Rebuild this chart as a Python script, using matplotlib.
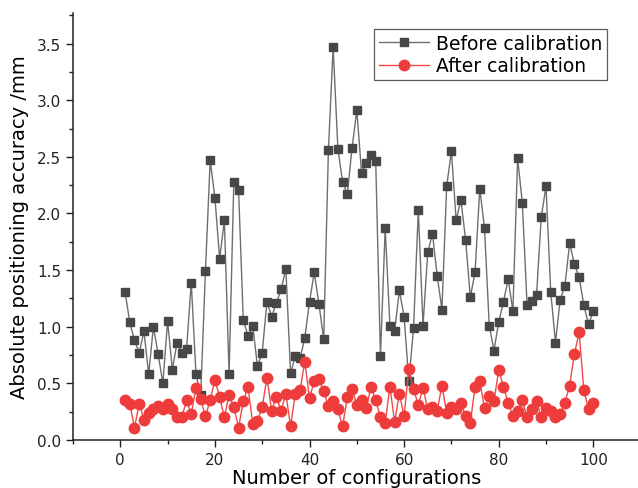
import matplotlib
matplotlib.use("Agg")
import matplotlib.pyplot as plt
from matplotlib.ticker import MultipleLocator
import numpy as np

configs = list(range(1, 101))
before = [1.31, 1.04, 0.88, 0.77, 0.96, 0.58, 1.00, 0.76, 0.50, 1.05,
          0.62, 0.86, 0.77, 0.80, 1.39, 0.58, 0.40, 1.49, 2.47, 2.14,
          1.60, 1.94, 0.58, 2.28, 2.21, 1.06, 0.92, 1.01, 0.65, 0.77,
          1.22, 1.09, 1.21, 1.33, 1.51, 0.59, 0.74, 0.72, 0.90, 1.22,
          1.48, 1.20, 0.89, 2.56, 3.47, 2.57, 2.28, 2.17, 2.58, 2.91,
          2.36, 2.45, 2.52, 2.46, 0.74, 1.87, 1.01, 0.96, 1.32, 1.09,
          0.52, 0.99, 2.03, 1.01, 1.66, 1.82, 1.45, 1.15, 2.24, 2.55,
          1.94, 2.12, 1.77, 1.26, 1.48, 2.22, 1.87, 1.01, 0.79, 1.04,
          1.22, 1.42, 1.14, 2.49, 2.09, 1.19, 1.23, 1.28, 1.97, 2.24,
          1.31, 0.86, 1.24, 1.36, 1.74, 1.55, 1.44, 1.19, 1.02, 1.14]
after = [0.35, 0.32, 0.11, 0.32, 0.18, 0.24, 0.27, 0.30, 0.27, 0.32,
         0.27, 0.20, 0.20, 0.35, 0.23, 0.46, 0.36, 0.21, 0.35, 0.53,
         0.38, 0.20, 0.40, 0.29, 0.11, 0.34, 0.47, 0.14, 0.17, 0.29,
         0.55, 0.26, 0.38, 0.26, 0.41, 0.12, 0.41, 0.44, 0.69, 0.37,
         0.52, 0.54, 0.43, 0.30, 0.34, 0.27, 0.12, 0.38, 0.45, 0.31,
         0.35, 0.28, 0.47, 0.35, 0.20, 0.15, 0.47, 0.16, 0.41, 0.21,
         0.63, 0.45, 0.31, 0.46, 0.27, 0.29, 0.26, 0.48, 0.24, 0.29,
         0.27, 0.33, 0.21, 0.15, 0.47, 0.52, 0.28, 0.39, 0.34, 0.62,
         0.47, 0.33, 0.21, 0.26, 0.35, 0.20, 0.27, 0.34, 0.20, 0.28,
         0.26, 0.20, 0.23, 0.33, 0.48, 0.76, 0.95, 0.44, 0.27, 0.33]

labels = ["Before calibration", "After calibration"]
xticks = [0, 20, 40, 60, 80, 100]

W, H = 638, 489
fig = plt.figure(figsize=(W / 100, H / 100), dpi=100)
ax = fig.add_axes([73 / W, 48 / H, 567.6 / W, 427 / H])

ax.plot(configs, before, color="#6e6e6e", lw=1.0, marker="s", ms=6.3,
        mfc="#474747", mec="#474747", label=labels[0], zorder=2)
ax.plot(configs, after, color="#f04848", lw=1.0, marker="o", ms=7.5,
        mfc="#ee3b3b", mec="#ee3b3b", label=labels[1], zorder=3)

ax.set_xlim(-10, 110)
ax.set_ylim(0, 3.77)
ax.set_xticks(xticks)
ax.xaxis.set_minor_locator(MultipleLocator(10))
ax.yaxis.set_major_locator(MultipleLocator(0.5))
ax.yaxis.set_minor_locator(MultipleLocator(0.25))
ax.yaxis.set_major_formatter(matplotlib.ticker.FormatStrFormatter("%.1f"))

for s in ["top", "right"]:
    ax.spines[s].set_visible(False)
for s in ["left", "bottom"]:
    ax.spines[s].set_linewidth(1.1)
    ax.spines[s].set_color("#222222")

ax.tick_params(which="major", direction="out", length=5, width=1.0,
               labelsize=11, colors="#222222")
ax.tick_params(which="minor", direction="out", length=3, width=1.0,
               colors="#222222")

ax.set_xlabel("Number of configurations", fontsize=14, labelpad=1)
ax.set_ylabel("Absolute positioning accuracy /mm", fontsize=14, labelpad=6)

leg = ax.legend(loc="upper right", bbox_to_anchor=(607 / W, 1 - 30 / H),
                bbox_transform=fig.transFigure, fontsize=13.5, frameon=True,
                fancybox=False, handlelength=2.7, handletextpad=0.35,
                borderpad=0.25, labelspacing=0.2, borderaxespad=0)
leg.get_frame().set_edgecolor("#333333")
leg.get_frame().set_linewidth(0.9)

fig.savefig("out.png", dpi=100)
